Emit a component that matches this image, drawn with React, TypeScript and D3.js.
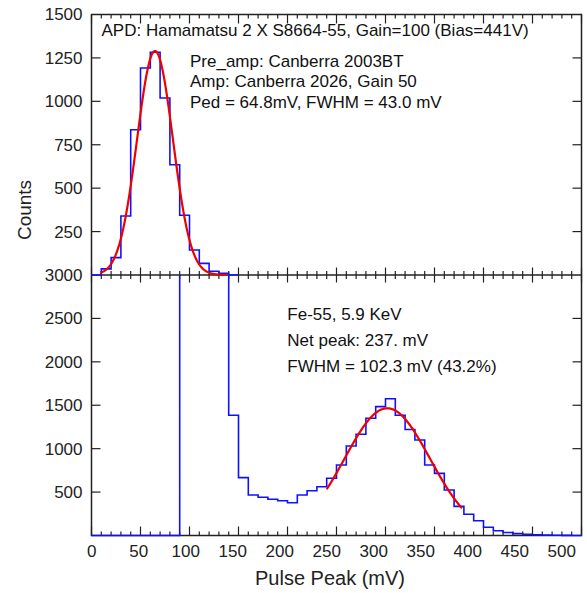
import React from 'react';
import * as d3 from 'd3';

// ---- data (10 mV bins, starting at 0 mV) ----
const BIN_WIDTH = 10;
// top panel: pedestal histogram, bins 0-10 ... 140-150 mV
const pedestalCounts = [0, 35, 100, 340, 836, 1192, 1283, 1019, 635, 344, 144, 67, 22, 10, 0];
// bottom panel: Fe-55 spectrum, bins 0-10 ... 490-500 mV (90-140 mV bins are off-scale, > 3000)
const fe55Counts = [
  0, 0, 0, 0, 0, 0, 0, 0, 0,
  15000, 12000, 9000, 6000, 4000,
  1385, 666, 466, 440, 417, 401, 378, 466, 516, 562, 659,
  812, 1031, 1166, 1350, 1484, 1575, 1385, 1220, 1100, 812, 716, 524, 335, 245, 170,
  95, 55, 35, 22, 14, 8, 5, 3, 2, 0,
];
// gaussian fits (parameters from the annotations)
const pedFitAmp = 1290, pedFitMean = 64.8, pedFitFwhm = 43.0, pedFitRange = [9, 138];
const feFitAmp = 1465, feFitMean = 301.8, feFitFwhm = 102.3, feFitRange = [240, 378];

const xTickValues = d3.range(0, 501, 10);
const xLabelValues = [0, 50, 100, 150, 200, 250, 300, 350, 400, 450, 500];
const topYTicks = [250, 500, 750, 1000, 1250];
const topYLabels = ['250', '500', '750', '1000', '1250', '1500'];
const botYTicks = [500, 1000, 1500, 2000, 2500];
const botYLabels = ['500', '1000', '1500', '2000', '2500', '3000'];

const topTexts = ['Pre_amp: Canberra 2003BT', 'Amp: Canberra 2026, Gain 50', 'Ped = 64.8mV, FWHM = 43.0 mV'];
const titleText = 'APD: Hamamatsu 2 X S8664-55, Gain=100 (Bias=441V)';
const botTexts = ['Fe-55, 5.9 KeV', 'Net peak: 237. mV', 'FWHM = 102.3 mV (43.2%)'];

const FONT = '"Liberation Sans", Arial, Helvetica, sans-serif';
const AX = '#222';
const BLUE = '#1010ff';
const RED = '#ee0000';

const L = 91.5, R = 581.5, T = 14.5, M = 275, B = 535.5;

export default function App() {
  const x = d3.scaleLinear().domain([0, 500]).range([L, R]);
  const xLab = d3.scaleLinear().domain([0, 500]).range([91.7, 561.7]);
  const yTop = d3.scaleLinear().domain([0, 1500]).range([M, T]);
  const yBot = d3.scaleLinear().domain([0, 3000]).range([B, M]);

  const stepPath = (counts: number[], y: d3.ScaleLinear<number, number>) => {
    const pts: [number, number][] = counts.map((c, i) => [i * BIN_WIDTH, c]);
    pts.push([counts.length * BIN_WIDTH, counts[counts.length - 1]]);
    return d3.line<[number, number]>().x(d => x(d[0])).y(d => y(d[1])).curve(d3.curveStepAfter)(pts) || '';
  };
  const gaussPath = (amp: number, mean: number, fwhm: number, range: number[], y: d3.ScaleLinear<number, number>) => {
    const s = fwhm / (2 * Math.sqrt(2 * Math.log(2)));
    const xs = d3.range(range[0], range[1] + 0.001, 0.5);
    return d3.line<number>().x(v => x(v)).y(v => y(amp * Math.exp(-((v - mean) ** 2) / (2 * s * s))))(xs) || '';
  };

  return (
    <svg width={587} height={593} style={{ position: 'absolute', left: 0, top: 0, background: '#fff' }}
      fontFamily={FONT}>
      <defs>
        <clipPath id="clipBot"><rect x={L - 1} y={M} width={R - L + 2} height={B - M + 2} /></clipPath>
        <clipPath id="clipTop"><rect x={L - 1} y={T} width={R - L + 2} height={M - T + 1} /></clipPath>
      </defs>

      {/* frame */}
      <rect x={L} y={T} width={R - L} height={B - T} fill="none" stroke={AX} strokeWidth={1.5} />
      <line x1={L} x2={R} y1={M} y2={M} stroke={AX} strokeWidth={1.5} />

      {/* x ticks: top (inward), middle (cross), bottom (inward) */}
      {xTickValues.map(v => {
        const major = v % 50 === 0;
        const xx = x(v);
        return (
          <g key={'xt' + v} stroke={AX} strokeWidth={1.2}>
            <line x1={xx} x2={xx} y1={T} y2={T + (major ? 9 : 4)} />
            <line x1={xx} x2={xx} y1={M - (major ? 7.5 : 4)} y2={M + (major ? 7.5 : 4)} />
            <line x1={xx} x2={xx} y1={B} y2={B - (major ? 9 : 4)} />
          </g>
        );
      })}
      {/* y ticks */}
      {topYTicks.map(v => (
        <g key={'yt' + v} stroke={AX} strokeWidth={1.2}>
          <line x1={L} x2={L + 9} y1={yTop(v)} y2={yTop(v)} />
          <line x1={R} x2={R - 9} y1={yTop(v)} y2={yTop(v)} />
        </g>
      ))}
      {botYTicks.map(v => (
        <g key={'yb' + v} stroke={AX} strokeWidth={1.2}>
          <line x1={L} x2={L + 9} y1={yBot(v)} y2={yBot(v)} />
          <line x1={R} x2={R - 9} y1={yBot(v)} y2={yBot(v)} />
        </g>
      ))}

      {/* histograms */}
      <path d={stepPath(pedestalCounts, yTop)} fill="none" stroke={BLUE} strokeWidth={1.6} clipPath="url(#clipTop)" />
      <path d={stepPath(fe55Counts, yBot)} fill="none" stroke={BLUE} strokeWidth={1.6} clipPath="url(#clipBot)" />

      {/* fits */}
      <path d={gaussPath(pedFitAmp, pedFitMean, pedFitFwhm, pedFitRange, yTop)} fill="none" stroke={RED} strokeWidth={2.2} />
      <path d={gaussPath(feFitAmp, feFitMean, feFitFwhm, feFitRange, yBot)} fill="none" stroke={RED} strokeWidth={2.2} />

      {/* y tick labels */}
      {topYLabels.map(s => (
        <text key={'tl' + s} x={82.5} y={yTop(+s)} dy="0.35em" textAnchor="end" fontSize={17} fill={AX}>{s}</text>
      ))}
      {botYLabels.map(s => (
        <text key={'bl' + s} x={82.5} y={yBot(+s)} dy="0.35em" textAnchor="end" fontSize={17} fill={AX}>{s}</text>
      ))}
      {/* x tick labels */}
      {xLabelValues.map(v => (
        <text key={'xl' + v} x={xLab(v)} y={556.5} textAnchor="middle" fontSize={17} fill={AX}>{v}</text>
      ))}

      {/* axis titles */}
      <text transform="translate(31,210) rotate(-90)" textAnchor="middle" fontSize={19} fill={AX}>Counts</text>
      <text x={330} y={585} textAnchor="middle" fontSize={20} fill={AX}>Pulse Peak (mV)</text>

      {/* annotations */}
      <text x={101.5} y={36} fontSize={17} fill="#111">{titleText}</text>
      {topTexts.map((s, i) => (
        <text key={'tt' + i} x={190} y={67 + i * 20.3} fontSize={17} fill="#111">{s}</text>
      ))}
      {botTexts.map((s, i) => (
        <text key={'bt' + i} x={287.3} y={320 + i * 26} fontSize={17} fill="#111">{s}</text>
      ))}
    </svg>
  );
}
